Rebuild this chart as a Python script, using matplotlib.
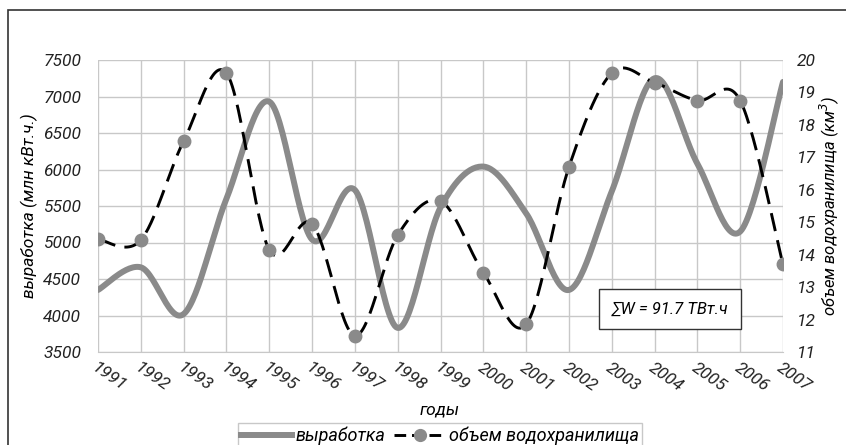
import numpy as np
import matplotlib
matplotlib.use('Agg')
import matplotlib.pyplot as plt
from matplotlib.lines import Line2D
from matplotlib.patches import Rectangle

plt.rcParams['font.family'] = ['Roboto', 'DejaVu Sans']
plt.rcParams['font.style'] = 'italic'

years = list(range(1991, 2008))
# выработка, млн кВт.ч
vyrabotka = [4350, 4660, 4020, 5600, 6930, 5040, 5720, 3830, 5480,
             6040, 5400, 4350, 5700, 7250, 6080, 5150, 7200]
# объем водохранилища, км3
obem = [14.48, 14.45, 17.5, 19.6, 14.15, 14.95, 11.5, 14.6, 15.65,
        13.45, 11.85, 16.7, 19.6, 19.3, 18.75, 18.75, 13.7]


def smooth(x, y, n=30):
    # excel-like smoothed line (catmull-rom bezier)
    x = np.asarray(x, float)
    y = np.asarray(y, float)
    px = np.concatenate([[x[0]], x, [x[-1]]])
    py = np.concatenate([[y[0]], y, [y[-1]]])
    xs, ys = [], []
    t = np.linspace(0, 1, n)
    for i in range(1, len(px) - 2):
        x0, y0 = px[i], py[i]
        x3, y3 = px[i + 1], py[i + 1]
        x1 = x0 + (px[i + 1] - px[i - 1]) / 6
        y1 = y0 + (py[i + 1] - py[i - 1]) / 6
        x2 = x3 - (px[i + 2] - px[i]) / 6
        y2 = y3 - (py[i + 2] - py[i]) / 6
        b0 = (1 - t) ** 3
        b1 = 3 * (1 - t) ** 2 * t
        b2 = 3 * (1 - t) * t ** 2
        b3 = t ** 3
        xs.append(b0 * x0 + b1 * x1 + b2 * x2 + b3 * x3)
        ys.append(b0 * y0 + b1 * y1 + b2 * y2 + b3 * y3)
    return np.concatenate(xs), np.concatenate(ys)


fig = plt.figure(figsize=(8.46, 4.45), dpi=100)
ax = fig.add_axes([98 / 846, 1 - 352 / 445, (783 - 98) / 846, (352 - 60) / 445])
ax2 = ax.twinx()

grid_c = '#c8c8c8'
line_c = '#8a8a8a'
xi = np.arange(len(years))

sx, sy = smooth(xi, vyrabotka)
ax.plot(sx, sy, color=line_c, lw=4.3, solid_capstyle='round', zorder=3)

sx2, sy2 = smooth(xi, obem)
ax2.plot(sx2, sy2, color='black', lw=2.1, dashes=(6.3, 3.2), zorder=3)
ax2.plot(xi, obem, 'o', color=line_c, ms=9, mec=line_c, zorder=4)

ax.set_xlim(0, len(years) - 1)
ax.set_ylim(3500, 7500)
ax.set_yticks(range(3500, 7501, 500))
ax2.set_ylim(11, 20)
ax2.set_yticks(range(11, 21))

ax.set_xticks(xi)
ax.set_xticklabels([str(y) for y in years], rotation=-35, ha='left',
                   va='top', rotation_mode='anchor', fontsize=12)
ax.grid(True, color=grid_c, lw=1)
ax.set_axisbelow(True)

for a in (ax, ax2):
    for s in a.spines.values():
        s.set_visible(False)
    a.tick_params(length=0, labelsize=12.5, colors='#222222')
ax.spines['bottom'].set_visible(True)
ax.spines['bottom'].set_color(grid_c)
ax.tick_params(axis='y', pad=12)
ax2.tick_params(axis='y', pad=10)
ax.tick_params(axis='x', pad=6)

ax.set_ylabel('выработка (млн кВт.ч.)', fontsize=12.5, labelpad=4)
ax2.set_ylabel('объем водохранилища (км$^3$)', fontsize=12, labelpad=1)
fig.text(440 / 846, 1 - 410 / 445, 'годы', fontsize=12.5, ha='center',
         va='center')

ax2.text(0.835, 0.146, '∑W = 91.7 ТВт.ч', transform=ax.transAxes, fontsize=12,
         ha='center', va='center', zorder=6,
         bbox=dict(boxstyle='square,pad=0.75', fc='white', ec='#333333', lw=1))

handles = [Line2D([], [], color=line_c, lw=4.3),
           Line2D([], [], color='black', lw=2.1, dashes=(4, 2), marker='o',
                  ms=8.5, mfc=line_c, mec=line_c)]
fig.legend(handles, ['выработка', 'объем водохранилища'], loc='center',
           bbox_to_anchor=(440 / 846, 1 - 436 / 445), ncol=2, fontsize=13,
           frameon=True, edgecolor='#bbbbbb', fancybox=False,
           handlelength=2.8, handletextpad=0.2, columnspacing=0.5,
           borderpad=0.2)

fig.patches.append(Rectangle((8 / 846, -0.1), 1.0, 1.1 - 10 / 445,
                             transform=fig.transFigure, fill=False,
                             ec='#333333', lw=1.2))

fig.savefig('out.png', dpi=100)
